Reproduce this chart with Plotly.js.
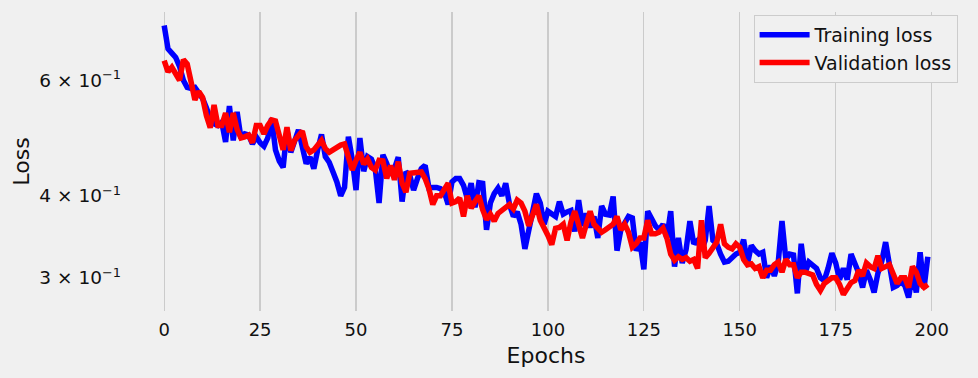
<!DOCTYPE html>
<html>
<head>
<meta charset="utf-8">
<script src="https://cdn.plot.ly/plotly-3.0.1.min.js"></script>
<style>
html,body{margin:0;padding:0;background:#f0f0f0;}
#chart{width:978px;height:378px;}
</style>
</head>
<body>
<div id="chart"></div>
<script>
const trainingLoss = [
0.727,0.670,0.660,0.650,0.630,0.600,0.585,0.583,0.585,0.572,
0.563,0.545,0.525,0.515,0.512,0.518,0.483,0.548,0.486,0.537,
0.490,0.497,0.495,0.480,0.492,0.482,0.476,0.490,0.525,0.470,
0.452,0.442,0.504,0.466,0.485,0.504,0.475,0.448,0.458,0.440,
0.470,0.496,0.459,0.450,0.435,0.420,0.400,0.412,0.492,0.455,
0.408,0.490,0.436,0.459,0.455,0.440,0.390,0.462,0.448,0.430,
0.440,0.458,0.392,0.435,0.430,0.408,0.425,0.440,0.445,0.411,
0.412,0.412,0.410,0.405,0.388,0.420,0.425,0.425,0.415,0.396,
0.418,0.384,0.419,0.418,0.355,0.390,0.403,0.411,0.400,0.418,
0.388,0.372,0.378,0.362,0.332,0.357,0.381,0.403,0.390,0.362,
0.379,0.376,0.372,0.392,0.375,0.378,0.380,0.353,0.394,0.360,
0.376,0.358,0.372,0.345,0.386,0.375,0.374,0.399,0.330,0.355,
0.362,0.372,0.370,0.330,0.340,0.309,0.379,0.368,0.360,0.355,
0.362,0.345,0.379,0.312,0.345,0.316,0.331,0.366,0.338,0.342,
0.330,0.342,0.386,0.342,0.338,0.326,0.317,0.318,0.322,0.326,
0.328,0.343,0.315,0.336,0.330,0.326,0.328,0.300,0.313,0.302,
0.316,0.366,0.320,0.326,0.325,0.284,0.338,0.305,0.317,0.314,
0.310,0.300,0.297,0.310,0.327,0.316,0.298,0.310,0.298,0.326,
0.315,0.305,0.290,0.308,0.298,0.285,0.305,0.318,0.340,0.315,
0.290,0.292,0.296,0.292,0.280,0.304,0.285,0.328,0.289,0.323
];
const validationLoss = [
0.643,0.618,0.628,0.612,0.600,0.645,0.635,0.597,0.560,0.577,
0.565,0.530,0.508,0.550,0.512,0.512,0.535,0.500,0.535,0.505,
0.490,0.492,0.495,0.482,0.512,0.512,0.497,0.512,0.522,0.520,
0.490,0.470,0.509,0.469,0.486,0.495,0.502,0.475,0.466,0.470,
0.478,0.486,0.472,0.466,0.470,0.475,0.478,0.480,0.460,0.438,
0.453,0.466,0.447,0.455,0.442,0.438,0.453,0.452,0.425,0.445,
0.423,0.451,0.418,0.405,0.433,0.434,0.435,0.435,0.425,0.410,
0.388,0.400,0.400,0.408,0.418,0.390,0.392,0.397,0.372,0.400,
0.383,0.392,0.400,0.381,0.368,0.375,0.366,0.376,0.380,0.385,
0.388,0.382,0.394,0.390,0.379,0.360,0.376,0.388,0.367,0.358,
0.348,0.337,0.357,0.358,0.362,0.342,0.365,0.379,0.360,0.345,
0.362,0.379,0.362,0.356,0.352,0.355,0.358,0.362,0.372,0.355,
0.362,0.352,0.334,0.338,0.345,0.345,0.367,0.350,0.350,0.352,
0.357,0.345,0.326,0.319,0.323,0.320,0.322,0.318,0.320,0.310,
0.367,0.322,0.327,0.334,0.340,0.362,0.338,0.334,0.332,0.338,
0.334,0.320,0.314,0.315,0.310,0.312,0.300,0.308,0.308,0.314,
0.317,0.306,0.320,0.314,0.314,0.300,0.306,0.306,0.305,0.303,
0.293,0.287,0.294,0.298,0.300,0.300,0.293,0.283,0.290,0.295,
0.297,0.308,0.302,0.316,0.312,0.310,0.324,0.310,0.312,0.314,
0.304,0.294,0.300,0.300,0.290,0.312,0.306,0.294,0.290,0.293
];
const epochs = trainingLoss.map((_, i) => i);
const xTickVals = [0, 25, 50, 75, 100, 125, 150, 175, 200];
const yTickVals = [0.6, 0.4, 0.3];
const yTickText = ["6 × 10<sup>−1</sup>", "4 × 10<sup>−1</sup>", "3 × 10<sup>−1</sup>"];

const font = "DejaVu Sans, sans-serif";
const traces = [
  {x: epochs, y: trainingLoss, type: "scatter", mode: "lines", name: "Training loss",
   line: {color: "#0000ff", width: 5.5}},
  {x: epochs, y: validationLoss, type: "scatter", mode: "lines", name: "Validation loss",
   line: {color: "#ff0000", width: 5.5}}
];
const layout = {
  width: 978, height: 378,
  paper_bgcolor: "#f0f0f0", plot_bgcolor: "#f0f0f0",
  margin: {l: 126, r: 12, t: 12, b: 67},
  font: {family: font, color: "#111", size: 18},
  showlegend: true,
  legend: {x: 0.990, y: 0.99, xanchor: "right", yanchor: "top",
           bgcolor: "#f0f0f0", bordercolor: "#cccccc", borderwidth: 1,
           itemwidth: 50,
           font: {family: font, size: 19, color: "#111"}, tracegroupgap: 0},
  xaxis: {range: [-9.95, 208.95], tickvals: xTickVals, showgrid: true, gridcolor: "#cbcbcb",
          gridwidth: 1.3, zeroline: false, showline: false, ticks: "", ticklabelstandoff: 6,
          title: {text: "Epochs", font: {size: 22}, standoff: 8}},
  yaxis: {type: "log", range: [-0.5735, -0.1178], tickvals: yTickVals, ticktext: yTickText,
          tickfont: {size: 18.5},
          showgrid: false, zeroline: false, showline: false, ticks: "", ticklabelstandoff: 4,
          title: {text: "Loss", font: {size: 22}, standoff: 3}}
};
Plotly.newPlot("chart", traces, layout, {displayModeBar: false, staticPlot: true});
</script>
</body>
</html>
